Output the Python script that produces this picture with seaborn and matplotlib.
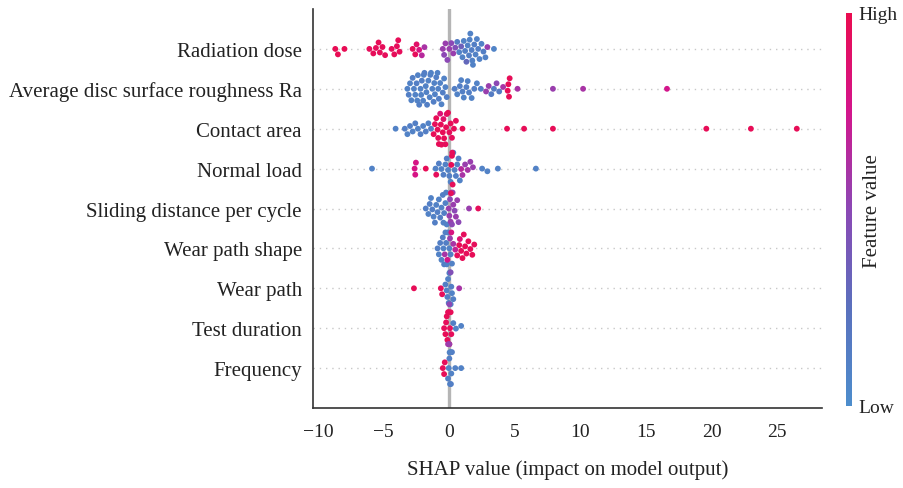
import numpy as np
import pandas as pd
import matplotlib
matplotlib.use("Agg")
import matplotlib.pyplot as plt
import seaborn as sns
from matplotlib.colors import LinearSegmentedColormap, Normalize
from matplotlib.cm import ScalarMappable

# ---------------- data ----------------
features = ["Radiation dose", "Average disc surface roughness Ra", "Contact area",
            "Normal load", "Sliding distance per cycle", "Wear path shape",
            "Wear path", "Test duration", "Frequency"]

shap_radiation = [-8.7, -8.5, -8.0,
                  -6.1, -5.8, -5.6, -5.4, -5.3, -5.1, -4.9,
                  -4.4, -4.2, -4.0, -3.9, -3.8,
                  -2.8, -2.6, -2.5, -2.3, -2.1, -1.9,
                  -0.5, -0.4, -0.3, -0.15, 0.0, 0.15, 0.3, 0.45,
                  0.6, 0.75, 0.9, 1.0, 1.1, 1.2, 1.3, 1.4, 1.5, 1.55, 1.6, 1.7,
                  1.75, 1.8, 1.9, 2.0, 2.1, 2.2, 2.3, 2.45, 2.6, 2.75, 2.9, 3.4]
fval_radiation = [0.98, 0.98, 0.98,
                  0.95, 0.96, 0.95, 0.97, 0.95, 0.96, 0.95,
                  0.95, 0.96, 0.95, 0.97, 0.95,
                  0.95, 0.95, 0.9, 0.8, 0.65, 0.6,
                  0.55, 0.5, 0.55, 0.5, 0.55, 0.5, 0.55, 0.45,
                  0.15, 0.1, 0.35, 0.1, 0.1, 0.12, 0.3, 0.1, 0.12, 0.1, 0.1, 0.12,
                  0.1, 0.1, 0.12, 0.1, 0.1, 0.12, 0.1, 0.1, 0.12, 0.1, 0.55, 0.08]

shap_roughness = [-3.2, -3.1, -3.0, -2.9, -2.8, -2.7, -2.6, -2.5, -2.45, -2.4, -2.3, -2.2,
                  -2.15, -2.1, -2.0, -1.95, -1.9, -1.8, -1.75, -1.7, -1.6, -1.5, -1.45,
                  -1.4, -1.3, -1.2, -1.15, -1.1, -1.0, -0.9, -0.85, -0.8, -0.7, -0.6,
                  -0.5, -0.4, -0.3, -0.2,
                  0.4, 0.6, 0.8, 0.9, 1.0, 1.1, 1.3, 1.4, 1.5, 1.7, 1.9, 2.1, 2.4,
                  2.8, 3.0, 3.2, 3.4, 3.6, 3.8, 4.1,
                  4.45, 4.5, 4.55, 4.6,
                  5.2, 7.9, 10.2, 16.6]
fval_roughness = [0.1, 0.12, 0.1, 0.1, 0.12, 0.1, 0.1, 0.12, 0.1, 0.1, 0.12, 0.1,
                  0.1, 0.12, 0.1, 0.1, 0.12, 0.1, 0.1, 0.12, 0.1, 0.1, 0.12,
                  0.1, 0.1, 0.12, 0.1, 0.1, 0.12, 0.1, 0.1, 0.12, 0.1, 0.1,
                  0.12, 0.1, 0.1, 0.12,
                  0.12, 0.1, 0.12, 0.1, 0.12, 0.1, 0.12, 0.1, 0.12, 0.1, 0.12, 0.1, 0.12,
                  0.55, 0.55, 0.15, 0.15, 0.5, 0.15, 0.6,
                  0.97, 0.97, 0.97, 0.97,
                  0.6, 0.55, 0.6, 0.75]

shap_contact = [-4.1,
                -3.4, -3.2, -3.0, -2.8, -2.6, -2.4, -2.2, -2.0, -1.8, -1.6, -1.4,
                -1.2, -1.1, -1.0, -0.9, -0.85, -0.8, -0.7, -0.65, -0.6,
                -0.5, -0.45, -0.4, -0.3, -0.25, -0.2, -0.1,
                0.0, 0.1, 0.2, 0.35, 0.5,
                1.0, 4.4, 5.7, 7.9, 19.6, 23.0, 26.5]
fval_contact = [0.1,
                0.12, 0.1, 0.12, 0.1, 0.12, 0.1, 0.12, 0.1, 0.12, 0.1, 0.12,
                0.97, 0.95, 0.97, 0.97, 0.95, 0.97, 0.85, 0.97, 0.95,
                0.97, 0.9, 0.97, 0.95, 0.97, 0.9, 0.97,
                0.95, 0.97, 0.95, 0.97, 0.95,
                0.97, 0.97, 0.97, 0.97, 0.97, 0.97, 0.97]

shap_load = [-5.9,
             -2.65, -2.6, -2.55, -1.8, -1.05, -1.0,
             -0.8, -0.6, -0.45, -0.3, -0.2, -0.1, 0.0, 0.1,
             0.3, 0.4, 0.5, 0.6, 0.7, 0.8,
             0.15, 0.2, 0.25, 0.22,
             0.9, 1.0, 1.2, 1.4, 1.6, 1.8,
             2.5, 2.9, 3.7, 6.6]
fval_load = [0.1,
             0.78, 0.78, 0.78, 0.97, 0.1, 0.95,
             0.12, 0.1, 0.12, 0.1, 0.12, 0.1, 0.12, 0.1,
             0.12, 0.1, 0.12, 0.1, 0.12, 0.1,
             0.97, 0.97, 0.95, 0.95,
             0.65, 0.6, 0.55, 0.6, 0.55, 0.55,
             0.1, 0.1, 0.1, 0.1]

shap_sliding = [-1.8, -1.6, -1.5, -1.4, -1.3, -1.2, -1.1, -1.0, -0.9, -0.8, -0.7, -0.6,
                -0.5, -0.45, -0.4, -0.3, -0.25, -0.2,
                -0.05, 0.0, 0.05, 0.1, 0.15, 0.2, 0.25, 0.3, 0.4, 0.5, 0.6, 0.7,
                0.12, 1.5, 2.2]
fval_sliding = [0.12, 0.1, 0.12, 0.1, 0.12, 0.1, 0.12, 0.1, 0.12, 0.1, 0.12, 0.1,
                0.12, 0.1, 0.12, 0.1, 0.12, 0.1,
                0.55, 0.55, 0.5, 0.55, 0.55, 0.5, 0.55, 0.55, 0.5, 0.55, 0.55, 0.5,
                0.95, 0.55, 0.95]

shap_shape = [-0.9, -0.8, -0.7, -0.6, -0.5, -0.45, -0.4, -0.3, -0.25, -0.2, -0.1, 0.0, 0.1, 0.2,
              -0.35, -0.15, 0.05, 0.15, 0.3, 0.45,
              0.6, 0.75, 0.8, 0.9, 1.0, 1.1, 1.2, 1.3, 1.45, 1.6, 1.75, 1.9]
fval_shape = [0.12, 0.1, 0.12, 0.1, 0.12, 0.1, 0.12, 0.1, 0.12, 0.1, 0.12, 0.1, 0.12, 0.1,
              0.6, 0.75, 0.55, 0.8, 0.6, 0.7,
              0.95, 0.97, 0.85, 0.95, 0.97, 0.95, 0.97, 0.95, 0.97, 0.95, 0.97, 0.95]

shap_wearpath = [-2.7, -0.65, -0.55,
                 -0.3, -0.2, -0.15, -0.1, -0.05, 0.0, 0.05, 0.1, 0.15, 0.2, 0.3,
                 0.0, 0.1, 0.75]
fval_wearpath = [0.97, 0.95, 0.95,
                 0.12, 0.1, 0.12, 0.1, 0.12, 0.1, 0.12, 0.1, 0.12, 0.1, 0.12,
                 0.5, 0.45, 0.6]

shap_duration = [-0.4, -0.3, -0.25, -0.2, -0.15, -0.1, -0.05, 0.0, 0.05, 0.1, 0.15,
                 -0.1, 0.0, 0.3, 0.5, 0.9]
fval_duration = [0.95, 0.97, 0.95, 0.97, 0.95, 0.97, 0.95, 0.97, 0.95, 0.97, 0.95,
                 0.6, 0.55, 0.12, 0.1, 0.1]

shap_frequency = [-0.1, -0.05, 0.0, 0.05, 0.1, 0.15, 0.2, 0.02, 0.12,
                  -0.5, -0.4, -0.35, 0.45, 0.9]
fval_frequency = [0.12, 0.1, 0.12, 0.1, 0.12, 0.1, 0.12, 0.1, 0.12,
                  0.95, 0.97, 0.95, 0.1, 0.1]

tick_values = [-10, -5, 0, 5, 10, 15, 20, 25]

# ---------------- build table ----------------
shap_lists = [shap_radiation, shap_roughness, shap_contact, shap_load, shap_sliding,
              shap_shape, shap_wearpath, shap_duration, shap_frequency]
fval_lists = [fval_radiation, fval_roughness, fval_contact, fval_load, fval_sliding,
              fval_shape, fval_wearpath, fval_duration, fval_frequency]
rows = []
for name, sv, fv in zip(features, shap_lists, fval_lists):
    for s, f in zip(sv, fv):
        rows.append((name, s, f))
df = pd.DataFrame(rows, columns=["feature", "shap", "fval"])

# ---------------- style ----------------
sns.set_theme(style="white")
plt.rcParams["font.family"] = ["Liberation Serif", "DejaVu Serif"]
plt.rcParams["axes.unicode_minus"] = True

cmap = LinearSegmentedColormap.from_list(
    "shap_rb", [(0.0, "#4d8dcc"), (0.25, "#5a70bd"), (0.5, "#8b48b5"),
                (0.75, "#d3158c"), (1.0, "#ea0c50")])

W, H = 904, 489
fig = plt.figure(figsize=(W / 100, H / 100), dpi=100)
ax = fig.add_axes([313 / W, 80 / H, (821.7 - 313) / W, 399 / H])

n = len(features)
for i in range(n):
    ax.axhline(i, color="#c8c8c8", lw=1.0, dashes=(1, 3.5), zorder=0)
ax.axvline(0, color="#b5b5b5", lw=2.4, zorder=0.5)

sns.swarmplot(data=df, x="shap", y="feature", hue="fval", order=features,
              palette=cmap, hue_norm=(0, 1), size=4.2, linewidth=0,
              legend=False, ax=ax, zorder=2)

ax.set_ylim(n, -1)
ax.set_xlim(-10.4, 28.4)
ax.set_xticks(tick_values)
ax.set_yticks(range(n))
ax.set_yticklabels(features)
ax.tick_params(axis="y", length=0, pad=8, labelsize=15, labelcolor="#222222")
ax.tick_params(axis="x", length=5, width=1, color="#333333", labelsize=14,
               labelcolor="#222222", pad=6)
for side in ["top", "right"]:
    ax.spines[side].set_visible(False)
for side in ["left", "bottom"]:
    ax.spines[side].set_color("#333333")
    ax.spines[side].set_linewidth(1.2)
ax.set_ylabel("")
ax.set_xlabel("SHAP value (impact on model output)", fontsize=15, color="#222222",
              labelpad=14)

# colorbar
cax = fig.add_axes([846 / W, (H - 407) / H, 6.5 / W, 393 / H])
cb = fig.colorbar(ScalarMappable(norm=Normalize(0, 1), cmap=cmap), cax=cax)
cb.set_ticks([0, 1])
cb.set_ticklabels(["Low", "High"])
cb.ax.tick_params(length=0, labelsize=14, labelcolor="#222222", pad=4)
cb.outline.set_visible(False)
fig.text(873 / W, 1 - 211 / H, "Feature value", rotation=90, ha="center",
         va="center", fontsize=15, color="#222222")

fig.savefig("out.png", dpi=100)
